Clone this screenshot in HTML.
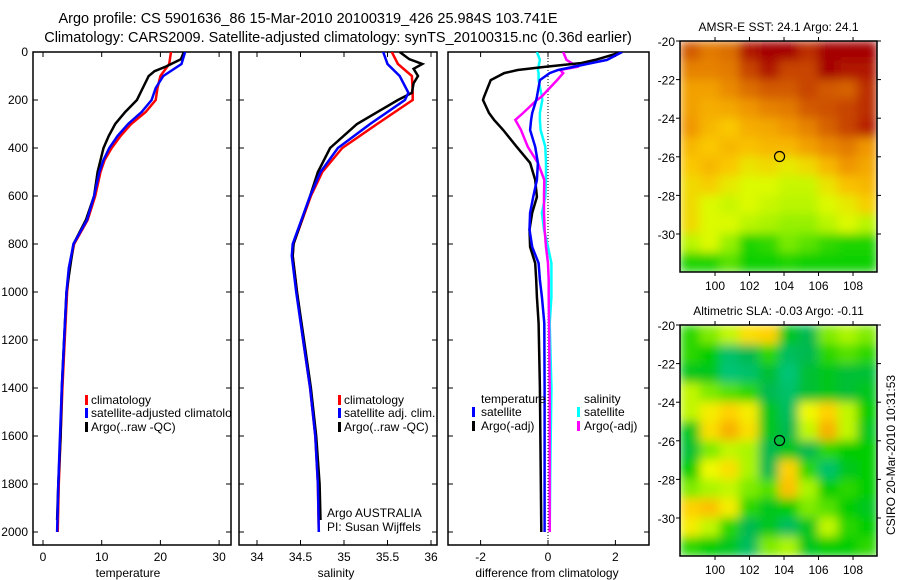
<!DOCTYPE html>
<html><head><meta charset="utf-8"><style>
body{margin:0;background:#fff;}
svg{display:block;font-family:"Liberation Sans",sans-serif;}
</style></head><body>
<svg id="c" width="900" height="580" viewBox="0 0 900 580" xmlns="http://www.w3.org/2000/svg">
<defs>
<clipPath id="cp1"><rect x="33" y="52" width="198" height="493"/></clipPath>
<clipPath id="cp2"><rect x="239" y="52" width="198" height="493"/></clipPath>
<clipPath id="cp3"><rect x="448" y="52" width="201" height="493"/></clipPath>
<clipPath id="mc1"><rect x="680" y="41" width="197" height="231"/></clipPath>
<clipPath id="mc2"><rect x="680" y="325" width="197" height="231"/></clipPath>
<filter id="blur" x="0" y="0" width="1" height="1"><feGaussianBlur stdDeviation="5" edgeMode="duplicate"/></filter>
</defs>
<text x="308" y="23" font-size="14.5" text-anchor="middle">Argo profile: CS 5901636_86 15-Mar-2010 20100319_426 25.984S 103.741E</text>
<text x="338" y="42" font-size="14.5" text-anchor="middle">Climatology: CARS2009. Satellite-adjusted climatology: synTS_20100315.nc (0.36d earlier)</text>
</svg>
<script>
// ---------- data ----------
const tempDepth = [0,50,100,150,200,250,300,350,400,450,500,600,700,800,900,1000,1200,1400,1600,1800,2000];
const tempClim  = [21.8,21.5,20,19.5,19.2,17.5,15,13.2,11.7,10.5,9.8,8.9,7.6,5.3,4.5,4.1,3.7,3.3,3.0,2.7,2.5];
const tempSat   = [24.2,23.6,20.5,19.2,18.5,16.8,14.5,12.7,11.3,10.3,9.6,8.7,7.5,5.2,4.4,4.0,3.6,3.2,2.9,2.6,2.4];
const argoDepth = [0,30,60,80,100,150,200,250,300,350,400,500,600,700,800,1000,1200,1400,1600,1800,1950];
const tempArgo  = [24,23.5,21,19,18,17,16,14,12.3,11.2,10.3,9.3,8.7,7.3,5.2,4.0,3.6,3.2,3.0,2.6,2.4];

const salDepth = [0,50,100,170,200,300,400,500,600,800,850,1000,1200,1400,1600,1800,2000];
const salClim  = [35.55,35.62,35.78,35.79,35.79,35.38,34.98,34.75,34.62,34.42,34.41,34.46,34.53,34.61,34.67,34.70,34.71];
const salSat   = [35.45,35.5,35.64,35.74,35.7,35.3,34.93,34.73,34.61,34.41,34.40,34.45,34.53,34.61,34.67,34.70,34.71];
const salArgoDepth = [0,30,50,70,100,130,170,200,300,400,500,600,800,850,1000,1200,1400,1600,1800,1950];
const salArgo  = [35.64,35.75,35.9,35.8,35.85,35.8,35.78,35.62,35.15,34.84,34.7,34.61,34.42,34.41,34.46,34.54,34.62,34.68,34.72,34.73];

const diffDepth = [0,33,46,62,75,88,117,187,200,254,283,325,395,462,533,604,670,740,812,880,950,1020,1130,1400,1700,2000];
const dTempSat  = [2.2,1.75,1.3,0.75,0.3,0.05,-0.24,-0.33,-0.35,-0.47,-0.5,-0.53,-0.38,-0.3,-0.33,-0.44,-0.53,-0.55,-0.47,-0.28,-0.24,-0.18,-0.11,-0.1,-0.1,-0.1];
const dTempArgo = [2.2,1.4,1.0,-0.1,-0.9,-1.3,-1.7,-1.9,-1.93,-1.75,-1.6,-1.33,-0.93,-0.53,-0.38,-0.33,-0.47,-0.55,-0.53,-0.38,-0.35,-0.33,-0.28,-0.24,-0.22,-0.2];
const dSalArgo  = [0.45,0.55,0.7,0.85,0.36,0.45,0.27,-0.2,-0.33,-0.74,-0.97,-0.8,-0.6,-0.3,-0.11,-0.12,-0.12,-0.1,-0.06,0.0,0.02,0.02,0.03,0.05,0.05,0.05];
const dSalSat   = [-0.33,-0.24,-0.26,-0.28,-0.3,-0.28,-0.28,-0.18,-0.17,-0.24,-0.24,-0.22,-0.08,-0.06,-0.06,-0.08,-0.18,-0.12,0.0,0.1,0.1,0.1,0.05,0.1,0.07,0.05];

const depthTicks = [0,200,400,600,800,1000,1200,1400,1600,1800,2000];
const tempTicks = [0,10,20,30];
const salTicks = [34,34.5,35,35.5,36];
const salTickLabels = ["34","34.5","35","35.5","36"];
const diffTicks = [-2,0,2];

const sstGrid = [
[0.8,0.72,0.75,0.95,1,1,0.9,1,1,1],
[0.7,0.7,0.72,0.85,0.95,0.85,0.85,1,0.95,0.95],
[0.62,0.62,0.68,0.75,0.8,0.8,0.85,0.8,0.78,0.9],
[0.62,0.58,0.6,0.65,0.7,0.72,0.8,0.82,0.85,0.9],
[0.65,0.55,0.5,0.58,0.6,0.65,0.7,0.78,0.85,0.92],
[0.55,0.5,0.55,0.52,0.55,0.55,0.62,0.68,0.72,0.65],
[0.5,0.55,0.5,0.42,0.45,0.4,0.45,0.55,0.65,0.6],
[0.45,0.48,0.4,0.35,0.35,0.32,0.32,0.42,0.52,0.55],
[0.45,0.35,0.32,0.35,0.32,0.3,0.3,0.35,0.4,0.48],
[0.45,0.35,0.35,0.3,0.28,0.25,0.25,0.3,0.35,0.3],
[0.3,0.35,0.25,0.05,0.08,0.2,0.15,0.08,0.05,0.05],
[0.05,0.05,0.15,0.02,0.02,0.05,0.02,0.02,0.02,0.02]];
const slaGrid = [
[0.4,0.5,0.6,0.8,0.85,0.3,0.2,0.5,0.55,0.5],
[0.4,0.35,0.1,0.2,0.4,0.15,0.2,0.4,0.45,0.4],
[0.3,0.3,0.05,0.1,0.25,0.05,0.25,0.3,0.25,0.25],
[0.6,0.5,0.45,0.4,0.2,0.1,0.25,0.3,0.25,0.3],
[0.6,0.75,0.85,0.75,0.3,0.15,0.7,0.85,0.6,0.35],
[0.3,0.8,0.95,0.8,0.3,0.2,0.6,0.95,0.6,0.3],
[0.25,0.5,0.6,0.55,0.2,0.3,0.2,0.4,0.35,0.35],
[0.35,0.7,0.8,0.55,0.2,0.85,0.4,0.1,0.3,0.35],
[0.5,0.55,0.6,0.5,0.45,0.9,0.55,0.35,0.4,0.35],
[0.85,0.9,0.75,0.4,0.3,0.35,0.5,0.45,0.35,0.3],
[0.75,0.6,0.4,0.2,0.3,0.15,0.3,0.6,0.4,0.35],
[0.4,0.35,0.3,0.15,0.5,0.55,0.3,0.35,0.35,0.4]];
const lonTicks = [100,102,104,106,108];
const latTicks = [-20,-22,-24,-26,-28,-30];
const argoLon = 103.741, argoLat = -25.984;

// ---------- helpers ----------
const NS = "http://www.w3.org/2000/svg";
const svg = document.getElementById('c');
function mk(tag, attrs, parent){const e=document.createElementNS(NS,tag);for(const k in attrs)e.setAttribute(k,attrs[k]);(parent||svg).appendChild(e);return e;}
const yD = d => 52 + d*0.24;
const xT = t => 43 + t*5.87;
const xS = s => 257 + (s-34)*87;
const xDf = v => 548 + v*33.7;
const TOP=52, BOT=545;

function panel(x0,x1,name,xt,xfn,xlabels,showY,xtitle,tx){
  const r=mk('rect',{x:x0,y:TOP,width:x1-x0,height:BOT-TOP,fill:'none',stroke:'#000','stroke-width':1.5});
  
  
  depthTicks.forEach(d=>{
    const y=yD(d);
    const t1=mk('line',{x1:x0,x2:x0+5,y1:y,y2:y,stroke:'#000'});
    
    
    const t2=mk('line',{x1:x1-5,x2:x1,y1:y,y2:y,stroke:'#000'});
    
    
    if(showY){
      const l=mk('text',{x:x0-5,y:y+4,'font-size':12,'text-anchor':'end'});
      l.textContent=d;
      
      
    }
  });
  xt.forEach((v,i)=>{
    const x=xfn(v);
    const a=mk('line',{x1:x,x2:x,y1:TOP,y2:TOP+5,stroke:'#000'});
    
    
    const b=mk('line',{x1:x,x2:x,y1:BOT-5,y2:BOT,stroke:'#000'});
    
    
    const l=mk('text',{x:x,y:561,'font-size':12,'text-anchor':'middle'});
    l.textContent=xlabels[i];
    
    
  });
  const t=mk('text',{x:tx,y:577,'font-size':12,'text-anchor':'middle'});
  t.textContent=xtitle;
  
  
}
function line(xs,ds,xfn,color,clip,name){
  const pts=xs.map((v,i)=>xfn(v).toFixed(1)+','+yD(ds[i]).toFixed(1)).join(' ');
  const p=mk('polyline',{points:pts,fill:'none',stroke:color,'stroke-width':2.5,'clip-path':'url(#'+clip+')'});
  
  
}
function txt(x,y,s,name,clip){
  const t=mk('text',{x:x,y:y,'font-size':12});
  if(clip)t.setAttribute('clip-path','url(#'+clip+')');
  t.textContent=s;
  
  
}
function marker(x,y,color,name){
  const r=mk('rect',{x:x,y:y-5,width:3,height:10,fill:color});
  
  
}

// panel 1 temperature
panel(33,231,'temperature-panel',tempTicks,xT,tempTicks.map(String),true,'temperature',128);
line(tempClim,tempDepth,xT,'#f00','cp1','temp-climatology-line');
line(tempArgo,argoDepth,xT,'#000','cp1','temp-argo-line');
line(tempSat,tempDepth,xT,'#00f','cp1','temp-satellite-line');
marker(85,400,'#f00','legend-marker-climatology');
txt(91,404,'climatology','legend-climatology','cp1');
marker(85,413,'#00f','legend-marker-satellite');
txt(91,417,'satellite-adjusted climatology','legend-satellite-adjusted','cp1');
marker(85,427,'#000','legend-marker-argo');
txt(91,431,'Argo(..raw -QC)','legend-argo','cp1');

// panel 2 salinity
panel(239,437,'salinity-panel',salTicks,xS,salTickLabels,false,'salinity',336);
line(salClim,salDepth,xS,'#f00','cp2','sal-climatology-line');
line(salArgo,salArgoDepth,xS,'#000','cp2','sal-argo-line');
line(salSat,salDepth,xS,'#00f','cp2','sal-satellite-line');
marker(338,400,'#f00','legend-marker-climatology');
txt(344,404,'climatology','legend-climatology','cp2');
marker(338,413,'#00f','legend-marker-satellite');
txt(344,417,'satellite adj. clim.','legend-satellite-adj','cp2');
marker(338,427,'#000','legend-marker-argo');
txt(344,431,'Argo(..raw -QC)','legend-argo','cp2');
txt(327,517,'Argo AUSTRALIA','argo-australia-label');
txt(327,531,'PI: Susan Wijffels','pi-label');

// panel 3 difference
panel(448,649,'difference-panel',diffTicks,xDf,diffTicks.map(String),false,'difference from climatology',547);
const zl=mk('line',{x1:xDf(0),x2:xDf(0),y1:TOP,y2:BOT,stroke:'#000','stroke-dasharray':'1,2'});


line(dSalSat,diffDepth,xDf,'#0ff','cp3','sal-satellite-diff-line');
line(dSalArgo,diffDepth,xDf,'#f0f','cp3','sal-argo-diff-line');
line(dTempArgo,diffDepth,xDf,'#000','cp3','temp-argo-diff-line');
line(dTempSat,diffDepth,xDf,'#00f','cp3','temp-satellite-diff-line');
txt(481,403,'temperature','legend-temperature-heading');
marker(472,412,'#00f','legend-marker-temp-satellite');
txt(481,416,'satellite','legend-temp-satellite');
marker(472,426,'#000','legend-marker-temp-argo');
txt(481,430,'Argo(-adj)','legend-temp-argo');
txt(584,403,'salinity','legend-salinity-heading');
marker(577,412,'#0ff','legend-marker-sal-satellite');
txt(584,416,'satellite','legend-sal-satellite');
marker(577,426,'#f0f','legend-marker-sal-argo');
txt(584,430,'Argo(-adj)','legend-sal-argo');

// ---------- maps ----------
function lerpCol(stops,v){
  v=Math.max(0,Math.min(1,v));
  for(let i=1;i<stops.length;i++){
    if(v<=stops[i][0]){
      const a=stops[i-1],b=stops[i],f=(v-a[0])/(b[0]-a[0]||1);
      return 'rgb('+[1,2,3].map(k=>Math.round(a[k]+(b[k]-a[k])*f)).join(',')+')';
    }
  }
  const l=stops[stops.length-1];return 'rgb('+l[1]+','+l[2]+','+l[3]+')';
}
const sstStops=[[0,0,205,0],[0.25,150,240,0],[0.35,220,250,0],[0.5,250,200,0],[0.65,240,150,0],[0.8,210,90,0],[1,165,0,0]];
const slaStops=[[0,0,200,130],[0.2,0,185,80],[0.35,0,205,0],[0.55,170,245,0],[0.7,240,250,0],[0.85,255,210,0],[1,245,160,0]];

function map(x0,y0,w,h,grid,stops,name,title,clip){
  const lon0=97.97,lon1=109.39,lat0=-20,lat1=-31.97;
  const px=l=>x0+(l-lon0)/(lon1-lon0)*w;
  const py=l=>y0+(l-lat0)/(lat1-lat0)*h;
  const rows=grid.length,cols=grid[0].length;
  const cw=w/cols,ch=h/rows;
  const g0=mk('g',{'clip-path':'url(#'+clip+')'});
  
  
  const g=mk('g',{filter:'url(#blur)'},g0);
  grid.forEach((row,r)=>row.forEach((v,c)=>{
    const e=mk('rect',{x:(x0+c*cw).toFixed(2),y:(y0+r*ch).toFixed(2),width:(cw+0.6).toFixed(2),height:(ch+0.6).toFixed(2),fill:lerpCol(stops,v)},g);
    
    
  }));
  const fr=mk('rect',{x:x0,y:y0,width:w,height:h,fill:'none',stroke:'#000','stroke-width':1.5});
  
  
  latTicks.forEach(l=>{
    const y=py(l);
    const a=mk('line',{x1:x0-4,x2:x0,y1:y,y2:y,stroke:'#000'});
    
    
    const b=mk('line',{x1:x0+w,x2:x0+w+4,y1:y,y2:y,stroke:'#000'});
    
    
    const t=mk('text',{x:x0-5,y:y+5,'font-size':12,'text-anchor':'end'});
    t.textContent=l;
    
    
  });
  lonTicks.forEach(l=>{
    const x=px(l);
    const a=mk('line',{x1:x,x2:x,y1:y0-4,y2:y0,stroke:'#000'});
    
    
    const b=mk('line',{x1:x,x2:x,y1:y0+h,y2:y0+h+4,stroke:'#000'});
    
    
    const t=mk('text',{x:x,y:y0+h+18,'font-size':12,'text-anchor':'middle'});
    t.textContent=l;
    
    
  });
  const c=mk('circle',{cx:px(argoLon),cy:py(argoLat),r:5,fill:'none',stroke:'#000','stroke-width':1.2});
  
  
  const tt=mk('text',{x:x0+w/2,y:y0-10,'font-size':12,'text-anchor':'middle'});
  tt.textContent=title;
  
  
}
map(680,41,197,231,sstGrid,sstStops,'sst-map','AMSR-E SST: 24.1 Argo: 24.1','mc1');
map(680,325,197,231,slaGrid,slaStops,'sla-map','Altimetric SLA: -0.03 Argo: -0.11','mc2');
const st=mk('text',{x:0,y:0,'font-size':12,'text-anchor':'middle',transform:'translate(895,455) rotate(-90)'});
st.textContent='CSIRO 20-Mar-2010 10:31:53';


</script>
</body></html>
